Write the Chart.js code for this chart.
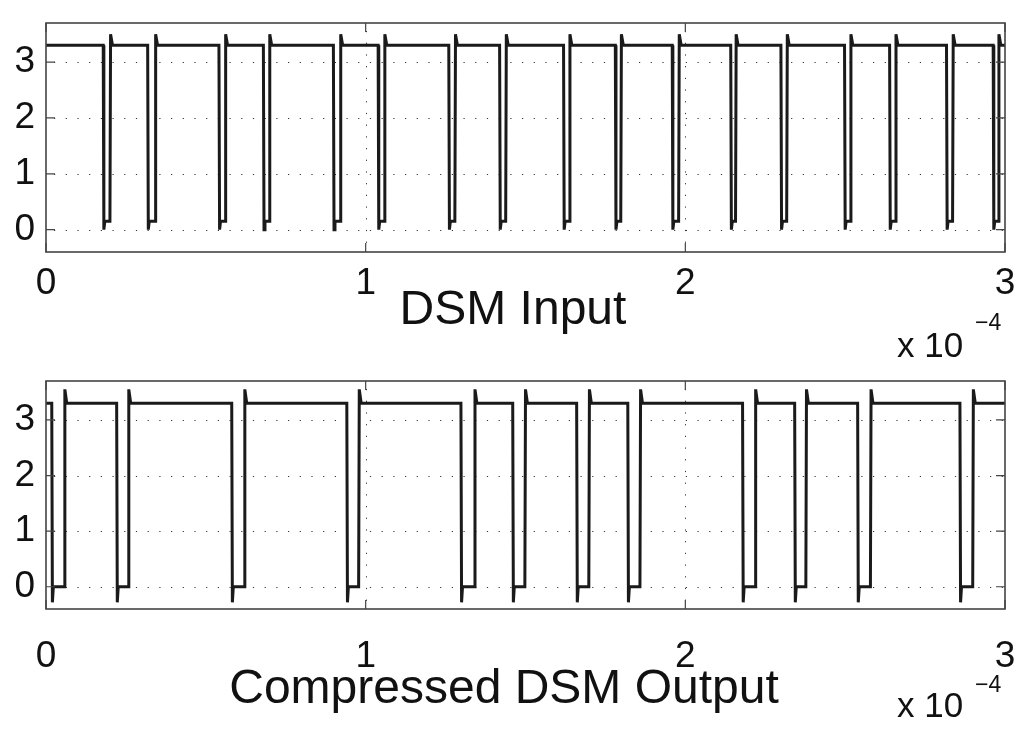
<!DOCTYPE html>
<html><head><meta charset="utf-8">
<script src="https://cdn.jsdelivr.net/npm/chart.js@4.4.1/dist/chart.umd.min.js"></script>
<style>
html,body{margin:0;padding:0;background:#fff;width:1024px;height:734px;overflow:hidden}
.box{position:absolute;left:0;width:1024px;height:367px}
</style></head><body>
<div class="box" style="top:0"><canvas id="c1" width="1024" height="367"></canvas></div>
<div class="box" style="top:367px"><canvas id="c2" width="1024" height="367"></canvas></div>
<script>
// ---- data (time in units of 1e-4 s, voltage in V) ----
const xTicks = [0, 1, 2, 3];
const yTicks = [0, 1, 2, 3];
const xRange = [0, 3];
const yRange = [-0.4, 3.7];

const inputFall = [0.179,0.318,0.541,0.680,0.899,1.039,1.260,1.419,1.619,1.781,1.959,2.142,2.299,2.498,2.639,2.817,2.963];
const inputRise = [0.200,0.341,0.560,0.698,0.920,1.058,1.279,1.438,1.637,1.798,1.979,2.157,2.317,2.516,2.657,2.836,2.979];
const inputHigh = 3.3, inputDip = 0.0, inputLow = 0.15, inputOvershoot = 3.5;

const outputFall = [0.018,0.221,0.581,0.941,1.298,1.460,1.660,1.820,2.179,2.342,2.539,2.859];
const outputRise = [0.057,0.257,0.620,0.978,1.340,1.498,1.698,1.858,2.218,2.377,2.579,2.899];
const outputHigh = 3.3, outputDip = -0.28, outputLow = 0.0, outputOvershoot = 3.55;

const titles = ["DSM Input", "Compressed DSM Output"];

// ---- build step waveforms from edge times ----
function buildWave(falls, rises, hi, dip, lo, over) {
  const pts = [{x: xRange[0], y: hi}];
  for (let i = 0; i < falls.length; i++) {
    const f = falls[i], r = rises[i];
    pts.push({x: f, y: hi}, {x: f + 0.002, y: dip}, {x: f + 0.005, y: lo},
             {x: r, y: lo}, {x: r + 0.002, y: over}, {x: r + 0.008, y: hi});
  }
  pts.push({x: xRange[1], y: hi});
  return pts;
}

const FONT = "'Liberation Sans', Arial, sans-serif";

const deco = {
  id: 'deco',
  beforeDatasetsDraw(chart) {
    const {ctx, chartArea: a, scales: {x, y}} = chart;
    ctx.save();
    ctx.strokeStyle = '#333';
    ctx.lineWidth = 1;
    ctx.setLineDash([1.2, 10.5]);
    yTicks.forEach(v => {
      const py = Math.round(y.getPixelForValue(v)) + 0.5;
      ctx.beginPath(); ctx.moveTo(a.left + 8, py); ctx.lineTo(a.right, py); ctx.stroke();
    });
    xTicks.forEach(v => {
      if (v === xRange[0] || v === xRange[1]) return;
      const px = Math.round(x.getPixelForValue(v)) + 0.5;
      ctx.beginPath(); ctx.moveTo(px, a.top + 8); ctx.lineTo(px, a.bottom); ctx.stroke();
    });
    ctx.restore();
  },
  afterDatasetsDraw(chart, args, o) {
    const {ctx, chartArea: a, scales: {x, y}} = chart;
    ctx.save();
    ctx.strokeStyle = '#444';
    ctx.lineWidth = 1.6;
    ctx.setLineDash([]);
    ctx.strokeRect(a.left, a.top, a.right - a.left, a.bottom - a.top);
    const tl = 9;
    ctx.lineWidth = 1.2;
    xTicks.forEach(v => {
      const px = x.getPixelForValue(v);
      ctx.beginPath();
      ctx.moveTo(px, a.bottom); ctx.lineTo(px, a.bottom - tl);
      ctx.moveTo(px, a.top); ctx.lineTo(px, a.top + tl);
      ctx.stroke();
    });
    yTicks.forEach(v => {
      const py = y.getPixelForValue(v);
      ctx.beginPath();
      ctx.moveTo(a.left, py); ctx.lineTo(a.left + tl, py);
      ctx.moveTo(a.right, py); ctx.lineTo(a.right - tl, py);
      ctx.stroke();
    });
    // title and exponent
    ctx.fillStyle = '#111';
    ctx.textBaseline = 'alphabetic';
    ctx.textAlign = 'center';
    ctx.font = '48px ' + FONT;
    ctx.fillText(o.title, o.titleX, o.titleY);
    ctx.textAlign = 'left';
    ctx.font = '35px ' + FONT;
    ctx.fillText('x 10', o.expX, o.expY);
    ctx.font = '23px ' + FONT;
    ctx.fillText('\u22124', o.expX + 78, o.expY - o.expRaise);
    ctx.restore();
  }
};

function makeChart(id, data, title, padTop, xAxisH, tickPad, titleX, titleY, expY, expRaise) {
  return new Chart(document.getElementById(id), {
    type: 'line',
    data: {datasets: [{data, borderColor: '#1a1a1a', borderWidth: 3, pointRadius: 0, tension: 0, fill: false}]},
    options: {
      responsive: false, animation: false, parsing: false, normalized: true,
      layout: {padding: {left: 0, top: padTop, right: 19, bottom: 0}},
      plugins: {legend: {display: false}, tooltip: {enabled: false},
        deco: {title, titleX, titleY, expX: 897, expY, expRaise}},
      scales: {
        x: {type: 'linear', min: xRange[0], max: xRange[1],
          afterBuildTicks: s => { s.ticks = xTicks.map(v => ({value: v})); },
          afterFit: s => { s.height = xAxisH; s.paddingLeft = 0; s.paddingRight = 0; },
          grid: {display: false, drawTicks: false}, border: {display: false},
          ticks: {padding: tickPad, color: '#111', font: {family: FONT, size: 37}, maxRotation: 0, autoSkip: false,
            callback: v => String(v)}},
        y: {type: 'linear', min: yRange[0], max: yRange[1],
          afterBuildTicks: s => { s.ticks = yTicks.map(v => ({value: v})); },
          afterFit: s => { s.width = 46; s.paddingTop = 0; s.paddingBottom = 0; },
          grid: {display: false, drawTicks: false}, border: {display: false},
          ticks: {padding: 11, color: '#111', font: {family: FONT, size: 37}, callback: v => String(v)}}
      }
    },
    plugins: [deco]
  });
}

makeChart('c1', buildWave(inputFall, inputRise, inputHigh, inputDip, inputLow, inputOvershoot),
  titles[0], 23, 115, 10, 513, 324, 357, 27);
makeChart('c2', buildWave(outputFall, outputRise, outputHigh, outputDip, outputLow, outputOvershoot),
  titles[1], 14, 125, 26, 504, 336, 350, 25);
</script>
</body></html>
